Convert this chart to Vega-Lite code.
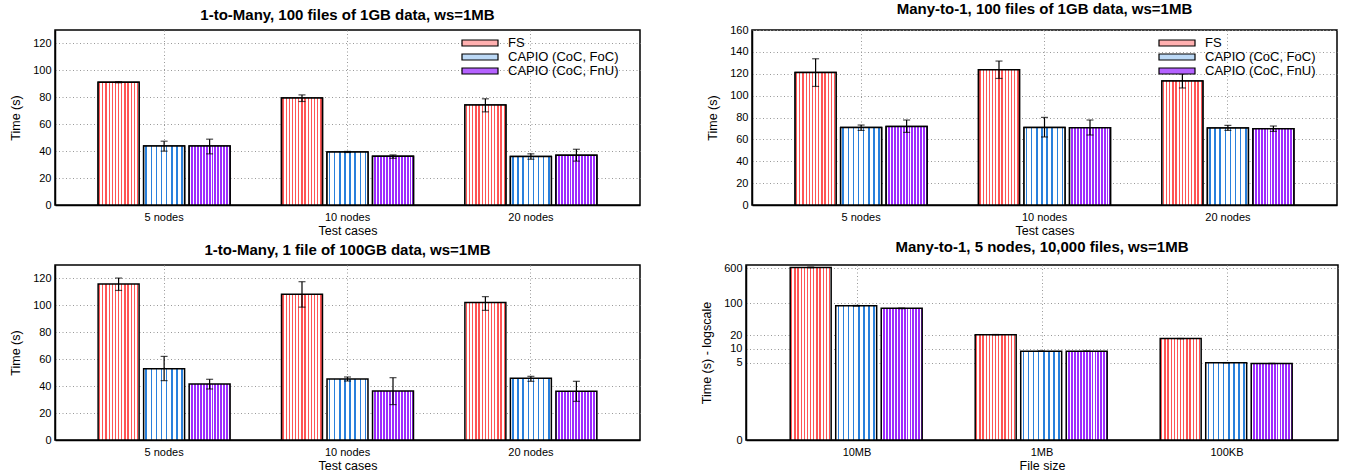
{
 "$schema": "https://vega.github.io/schema/vega-lite/v6.json",
 "padding": {"left": 8, "top": 1, "right": 5, "bottom": 0},
 "config": {
  "font": "Liberation Sans",
  "view": {"stroke": "black", "strokeWidth": 1.5},
  "title": {"fontSize": 15, "fontWeight": "bold", "color": "black", "offset": 7, "anchor": "middle"},
  "axis": {"labelFontSize": 11, "labelColor": "black", "titleFontSize": 12.5, "titleFontWeight": "normal", "titleColor": "black", "domainColor": "black", "domainWidth": 1.5, "ticks": false, "grid": true, "gridColor": "#999", "gridDash": [1, 2.5], "gridWidth": 1, "labelPadding": 4},
  "axisX": {"labelPadding": 6, "titlePadding": 2, "labelAngle": 0},
  "axisY": {"titlePadding": 10}
 },
 "spacing": 1,
 "vconcat": [
  {
   "spacing": 64,
   "resolve": {"scale": {"fill": "independent"}, "legend": {"fill": "independent"}},
   "hconcat": [
    {
     "title": "1-to-Many, 100 files of 1GB data, ws=1MB",
     "width": 585, "height": 175,
     "data": {"values": [
      {"case": "5 nodes", "series": "FS", "value": 91.2, "lo": 90.8, "hi": 91.6},
      {"case": "5 nodes", "series": "CAPIO (CoC, FoC)", "value": 43.9, "lo": 40.0, "hi": 47.4},
      {"case": "5 nodes", "series": "CAPIO (CoC, FnU)", "value": 43.9, "lo": 38.0, "hi": 48.9},
      {"case": "10 nodes", "series": "FS", "value": 79.4, "lo": 76.9, "hi": 81.8},
      {"case": "10 nodes", "series": "CAPIO (CoC, FoC)", "value": 39.4, "lo": 39.0, "hi": 39.8},
      {"case": "10 nodes", "series": "CAPIO (CoC, FnU)", "value": 36.2, "lo": 34.7, "hi": 37.2},
      {"case": "20 nodes", "series": "FS", "value": 74.2, "lo": 69.2, "hi": 78.9},
      {"case": "20 nodes", "series": "CAPIO (CoC, FoC)", "value": 36.0, "lo": 34.0, "hi": 38.0},
      {"case": "20 nodes", "series": "CAPIO (CoC, FnU)", "value": 37.0, "lo": 32.6, "hi": 41.4}
     ]},
     "encoding": {
      "x": {"field": "case", "type": "nominal", "sort": ["5 nodes", "10 nodes", "20 nodes"], "scale": {"paddingInner": 0, "paddingOuter": 0.095}, "axis": {"title": "Test cases", "bandPosition": 0.5, "grid": true}},
      "xOffset": {"field": "series", "type": "nominal", "scale": {"domain": ["FS", "CAPIO (CoC, FoC)", "CAPIO (CoC, FnU)"], "paddingInner": 0.1, "paddingOuter": 0.565}},
      "y": {"field": "value", "type": "quantitative", "scale": {"domain": [0, 130], "nice": false}, "axis": {"title": "Time (s)", "values": [0, 20, 40, 60, 80, 100, 120]}}
     },
     "layer": [
      {"mark": {"type": "bar", "stroke": "black", "strokeWidth": 1.5},
       "encoding": {"fill": {"field": "series", "type": "nominal", "scale": {"domain": ["FS", "CAPIO (CoC, FoC)", "CAPIO (CoC, FnU)"], "range": ["#ffb0b0", "#bcd9f6", "#b562ff"]},
        "legend": {"title": null, "orient": "none", "legendX": 418, "legendY": 6, "symbolType": "M-3,-0.5H3V0.5H-3Z", "symbolSize": 144, "symbolStrokeColor": "black", "symbolStrokeWidth": 1.2, "labelFontSize": 13, "labelColor": "black", "labelOffset": 21, "rowPadding": -1, "labelLimit": 300}}}},
      {"transform": [{"filter": "datum.series === 'FS'"}],
       "mark": {"type": "bar", "stroke": "black", "strokeWidth": 1.5, "fill": {"gradient": "linear", "x1": 0, "y1": 0, "x2": 1, "y2": 0, "stops": [{"offset":0,"color":"#fff"},{"offset":0.023,"color":"#fff"},{"offset":0.023,"color":"#f55"},{"offset":0.054,"color":"#f55"},{"offset":0.054,"color":"#fff"},{"offset":0.1,"color":"#fff"},{"offset":0.1,"color":"#f55"},{"offset":0.131,"color":"#f55"},{"offset":0.131,"color":"#fff"},{"offset":0.177,"color":"#fff"},{"offset":0.177,"color":"#f55"},{"offset":0.208,"color":"#f55"},{"offset":0.208,"color":"#fff"},{"offset":0.254,"color":"#fff"},{"offset":0.254,"color":"#f55"},{"offset":0.285,"color":"#f55"},{"offset":0.285,"color":"#fff"},{"offset":0.331,"color":"#fff"},{"offset":0.331,"color":"#f55"},{"offset":0.362,"color":"#f55"},{"offset":0.362,"color":"#fff"},{"offset":0.408,"color":"#fff"},{"offset":0.408,"color":"#f55"},{"offset":0.439,"color":"#f55"},{"offset":0.439,"color":"#fff"},{"offset":0.485,"color":"#fff"},{"offset":0.485,"color":"#f55"},{"offset":0.516,"color":"#f55"},{"offset":0.516,"color":"#fff"},{"offset":0.561,"color":"#fff"},{"offset":0.561,"color":"#f55"},{"offset":0.592,"color":"#f55"},{"offset":0.592,"color":"#fff"},{"offset":0.638,"color":"#fff"},{"offset":0.638,"color":"#f55"},{"offset":0.669,"color":"#f55"},{"offset":0.669,"color":"#fff"},{"offset":0.715,"color":"#fff"},{"offset":0.715,"color":"#f55"},{"offset":0.746,"color":"#f55"},{"offset":0.746,"color":"#fff"},{"offset":0.792,"color":"#fff"},{"offset":0.792,"color":"#f55"},{"offset":0.823,"color":"#f55"},{"offset":0.823,"color":"#fff"},{"offset":0.869,"color":"#fff"},{"offset":0.869,"color":"#f55"},{"offset":0.9,"color":"#f55"},{"offset":0.9,"color":"#fff"},{"offset":0.946,"color":"#fff"},{"offset":0.946,"color":"#f55"},{"offset":0.977,"color":"#f55"},{"offset":0.977,"color":"#fff"},{"offset":1,"color":"#fff"}]}},
       "encoding": {}},
      {"transform": [{"filter": "datum.series === 'CAPIO (CoC, FoC)'"}],
       "mark": {"type": "bar", "stroke": "black", "strokeWidth": 1.5, "fill": {"gradient": "linear", "x1": 0, "y1": 0, "x2": 1, "y2": 0, "stops": [{"offset":0,"color":"#fff"},{"offset":0.044,"color":"#fff"},{"offset":0.044,"color":"#2a80dc"},{"offset":0.081,"color":"#2a80dc"},{"offset":0.081,"color":"#fff"},{"offset":0.169,"color":"#fff"},{"offset":0.169,"color":"#2a80dc"},{"offset":0.206,"color":"#2a80dc"},{"offset":0.206,"color":"#fff"},{"offset":0.294,"color":"#fff"},{"offset":0.294,"color":"#2a80dc"},{"offset":0.331,"color":"#2a80dc"},{"offset":0.331,"color":"#fff"},{"offset":0.419,"color":"#fff"},{"offset":0.419,"color":"#2a80dc"},{"offset":0.456,"color":"#2a80dc"},{"offset":0.456,"color":"#fff"},{"offset":0.544,"color":"#fff"},{"offset":0.544,"color":"#2a80dc"},{"offset":0.581,"color":"#2a80dc"},{"offset":0.581,"color":"#fff"},{"offset":0.669,"color":"#fff"},{"offset":0.669,"color":"#2a80dc"},{"offset":0.706,"color":"#2a80dc"},{"offset":0.706,"color":"#fff"},{"offset":0.794,"color":"#fff"},{"offset":0.794,"color":"#2a80dc"},{"offset":0.831,"color":"#2a80dc"},{"offset":0.831,"color":"#fff"},{"offset":0.919,"color":"#fff"},{"offset":0.919,"color":"#2a80dc"},{"offset":0.956,"color":"#2a80dc"},{"offset":0.956,"color":"#fff"},{"offset":1,"color":"#fff"}]}},
       "encoding": {}},
      {"transform": [{"filter": "datum.series === 'CAPIO (CoC, FnU)'"}],
       "mark": {"type": "bar", "stroke": "black", "strokeWidth": 1.5, "fill": {"gradient": "linear", "x1": 0, "y1": 0, "x2": 1, "y2": 0, "stops": [{"offset":0,"color":"#9d2cff"},{"offset":0.023,"color":"#9d2cff"},{"offset":0.023,"color":"#fff"},{"offset":0.048,"color":"#fff"},{"offset":0.048,"color":"#9d2cff"},{"offset":0.094,"color":"#9d2cff"},{"offset":0.094,"color":"#fff"},{"offset":0.119,"color":"#fff"},{"offset":0.119,"color":"#9d2cff"},{"offset":0.166,"color":"#9d2cff"},{"offset":0.166,"color":"#fff"},{"offset":0.191,"color":"#fff"},{"offset":0.191,"color":"#9d2cff"},{"offset":0.237,"color":"#9d2cff"},{"offset":0.237,"color":"#fff"},{"offset":0.262,"color":"#fff"},{"offset":0.262,"color":"#9d2cff"},{"offset":0.309,"color":"#9d2cff"},{"offset":0.309,"color":"#fff"},{"offset":0.334,"color":"#fff"},{"offset":0.334,"color":"#9d2cff"},{"offset":0.38,"color":"#9d2cff"},{"offset":0.38,"color":"#fff"},{"offset":0.405,"color":"#fff"},{"offset":0.405,"color":"#9d2cff"},{"offset":0.451,"color":"#9d2cff"},{"offset":0.451,"color":"#fff"},{"offset":0.476,"color":"#fff"},{"offset":0.476,"color":"#9d2cff"},{"offset":0.523,"color":"#9d2cff"},{"offset":0.523,"color":"#fff"},{"offset":0.548,"color":"#fff"},{"offset":0.548,"color":"#9d2cff"},{"offset":0.594,"color":"#9d2cff"},{"offset":0.594,"color":"#fff"},{"offset":0.619,"color":"#fff"},{"offset":0.619,"color":"#9d2cff"},{"offset":0.666,"color":"#9d2cff"},{"offset":0.666,"color":"#fff"},{"offset":0.691,"color":"#fff"},{"offset":0.691,"color":"#9d2cff"},{"offset":0.737,"color":"#9d2cff"},{"offset":0.737,"color":"#fff"},{"offset":0.762,"color":"#fff"},{"offset":0.762,"color":"#9d2cff"},{"offset":0.809,"color":"#9d2cff"},{"offset":0.809,"color":"#fff"},{"offset":0.834,"color":"#fff"},{"offset":0.834,"color":"#9d2cff"},{"offset":0.88,"color":"#9d2cff"},{"offset":0.88,"color":"#fff"},{"offset":0.905,"color":"#fff"},{"offset":0.905,"color":"#9d2cff"},{"offset":0.951,"color":"#9d2cff"},{"offset":0.951,"color":"#fff"},{"offset":0.976,"color":"#fff"},{"offset":0.976,"color":"#9d2cff"},{"offset":1,"color":"#9d2cff"}]}},
       "encoding": {}},
      {"mark": {"type": "rule", "color": "black", "strokeWidth": 1.2}, "encoding": {"y": {"field": "lo", "type": "quantitative"}, "y2": {"field": "hi"}}},
      {"mark": {"type": "tick", "color": "black", "size": 7, "thickness": 1.2}, "encoding": {"y": {"field": "lo", "type": "quantitative"}}},
      {"mark": {"type": "tick", "color": "black", "size": 7, "thickness": 1.2}, "encoding": {"y": {"field": "hi", "type": "quantitative"}}}
     ]
    },
    {
     "title": "Many-to-1, 100 files of 1GB data, ws=1MB",
     "width": 585, "height": 175,
     "data": {"values": [
      {"case": "5 nodes", "series": "FS", "value": 121.2, "lo": 108.4, "hi": 133.7},
      {"case": "5 nodes", "series": "CAPIO (CoC, FoC)", "value": 70.9, "lo": 68.2, "hi": 73.1},
      {"case": "5 nodes", "series": "CAPIO (CoC, FnU)", "value": 71.8, "lo": 66.4, "hi": 77.7},
      {"case": "10 nodes", "series": "FS", "value": 123.7, "lo": 115.7, "hi": 131.6},
      {"case": "10 nodes", "series": "CAPIO (CoC, FoC)", "value": 70.9, "lo": 62.2, "hi": 80.1},
      {"case": "10 nodes", "series": "CAPIO (CoC, FnU)", "value": 70.7, "lo": 64.0, "hi": 77.7},
      {"case": "20 nodes", "series": "FS", "value": 113.3, "lo": 107.0, "hi": 120.0},
      {"case": "20 nodes", "series": "CAPIO (CoC, FoC)", "value": 70.4, "lo": 68.2, "hi": 72.8},
      {"case": "20 nodes", "series": "CAPIO (CoC, FnU)", "value": 69.7, "lo": 67.3, "hi": 72.2}
     ]},
     "encoding": {
      "x": {"field": "case", "type": "nominal", "sort": ["5 nodes", "10 nodes", "20 nodes"], "scale": {"paddingInner": 0, "paddingOuter": 0.095}, "axis": {"title": "Test cases", "bandPosition": 0.5, "grid": true}},
      "xOffset": {"field": "series", "type": "nominal", "scale": {"domain": ["FS", "CAPIO (CoC, FoC)", "CAPIO (CoC, FnU)"], "paddingInner": 0.1, "paddingOuter": 0.565}},
      "y": {"field": "value", "type": "quantitative", "scale": {"domain": [0, 160], "nice": false}, "axis": {"title": "Time (s)", "values": [0, 20, 40, 60, 80, 100, 120, 140, 160]}}
     },
     "layer": [
      {"mark": {"type": "bar", "stroke": "black", "strokeWidth": 1.5},
       "encoding": {"fill": {"field": "series", "type": "nominal", "scale": {"domain": ["FS", "CAPIO (CoC, FoC)", "CAPIO (CoC, FnU)"], "range": ["#ffb0b0", "#bcd9f6", "#b562ff"]},
        "legend": {"title": null, "orient": "none", "legendX": 418, "legendY": 6, "symbolType": "M-3,-0.5H3V0.5H-3Z", "symbolSize": 144, "symbolStrokeColor": "black", "symbolStrokeWidth": 1.2, "labelFontSize": 13, "labelColor": "black", "labelOffset": 21, "rowPadding": -1, "labelLimit": 300}}}},
      {"transform": [{"filter": "datum.series === 'FS'"}],
       "mark": {"type": "bar", "stroke": "black", "strokeWidth": 1.5, "fill": {"gradient": "linear", "x1": 0, "y1": 0, "x2": 1, "y2": 0, "stops": [{"offset":0,"color":"#fff"},{"offset":0.023,"color":"#fff"},{"offset":0.023,"color":"#f55"},{"offset":0.054,"color":"#f55"},{"offset":0.054,"color":"#fff"},{"offset":0.1,"color":"#fff"},{"offset":0.1,"color":"#f55"},{"offset":0.131,"color":"#f55"},{"offset":0.131,"color":"#fff"},{"offset":0.177,"color":"#fff"},{"offset":0.177,"color":"#f55"},{"offset":0.208,"color":"#f55"},{"offset":0.208,"color":"#fff"},{"offset":0.254,"color":"#fff"},{"offset":0.254,"color":"#f55"},{"offset":0.285,"color":"#f55"},{"offset":0.285,"color":"#fff"},{"offset":0.331,"color":"#fff"},{"offset":0.331,"color":"#f55"},{"offset":0.362,"color":"#f55"},{"offset":0.362,"color":"#fff"},{"offset":0.408,"color":"#fff"},{"offset":0.408,"color":"#f55"},{"offset":0.439,"color":"#f55"},{"offset":0.439,"color":"#fff"},{"offset":0.485,"color":"#fff"},{"offset":0.485,"color":"#f55"},{"offset":0.516,"color":"#f55"},{"offset":0.516,"color":"#fff"},{"offset":0.561,"color":"#fff"},{"offset":0.561,"color":"#f55"},{"offset":0.592,"color":"#f55"},{"offset":0.592,"color":"#fff"},{"offset":0.638,"color":"#fff"},{"offset":0.638,"color":"#f55"},{"offset":0.669,"color":"#f55"},{"offset":0.669,"color":"#fff"},{"offset":0.715,"color":"#fff"},{"offset":0.715,"color":"#f55"},{"offset":0.746,"color":"#f55"},{"offset":0.746,"color":"#fff"},{"offset":0.792,"color":"#fff"},{"offset":0.792,"color":"#f55"},{"offset":0.823,"color":"#f55"},{"offset":0.823,"color":"#fff"},{"offset":0.869,"color":"#fff"},{"offset":0.869,"color":"#f55"},{"offset":0.9,"color":"#f55"},{"offset":0.9,"color":"#fff"},{"offset":0.946,"color":"#fff"},{"offset":0.946,"color":"#f55"},{"offset":0.977,"color":"#f55"},{"offset":0.977,"color":"#fff"},{"offset":1,"color":"#fff"}]}},
       "encoding": {}},
      {"transform": [{"filter": "datum.series === 'CAPIO (CoC, FoC)'"}],
       "mark": {"type": "bar", "stroke": "black", "strokeWidth": 1.5, "fill": {"gradient": "linear", "x1": 0, "y1": 0, "x2": 1, "y2": 0, "stops": [{"offset":0,"color":"#fff"},{"offset":0.044,"color":"#fff"},{"offset":0.044,"color":"#2a80dc"},{"offset":0.081,"color":"#2a80dc"},{"offset":0.081,"color":"#fff"},{"offset":0.169,"color":"#fff"},{"offset":0.169,"color":"#2a80dc"},{"offset":0.206,"color":"#2a80dc"},{"offset":0.206,"color":"#fff"},{"offset":0.294,"color":"#fff"},{"offset":0.294,"color":"#2a80dc"},{"offset":0.331,"color":"#2a80dc"},{"offset":0.331,"color":"#fff"},{"offset":0.419,"color":"#fff"},{"offset":0.419,"color":"#2a80dc"},{"offset":0.456,"color":"#2a80dc"},{"offset":0.456,"color":"#fff"},{"offset":0.544,"color":"#fff"},{"offset":0.544,"color":"#2a80dc"},{"offset":0.581,"color":"#2a80dc"},{"offset":0.581,"color":"#fff"},{"offset":0.669,"color":"#fff"},{"offset":0.669,"color":"#2a80dc"},{"offset":0.706,"color":"#2a80dc"},{"offset":0.706,"color":"#fff"},{"offset":0.794,"color":"#fff"},{"offset":0.794,"color":"#2a80dc"},{"offset":0.831,"color":"#2a80dc"},{"offset":0.831,"color":"#fff"},{"offset":0.919,"color":"#fff"},{"offset":0.919,"color":"#2a80dc"},{"offset":0.956,"color":"#2a80dc"},{"offset":0.956,"color":"#fff"},{"offset":1,"color":"#fff"}]}},
       "encoding": {}},
      {"transform": [{"filter": "datum.series === 'CAPIO (CoC, FnU)'"}],
       "mark": {"type": "bar", "stroke": "black", "strokeWidth": 1.5, "fill": {"gradient": "linear", "x1": 0, "y1": 0, "x2": 1, "y2": 0, "stops": [{"offset":0,"color":"#9d2cff"},{"offset":0.023,"color":"#9d2cff"},{"offset":0.023,"color":"#fff"},{"offset":0.048,"color":"#fff"},{"offset":0.048,"color":"#9d2cff"},{"offset":0.094,"color":"#9d2cff"},{"offset":0.094,"color":"#fff"},{"offset":0.119,"color":"#fff"},{"offset":0.119,"color":"#9d2cff"},{"offset":0.166,"color":"#9d2cff"},{"offset":0.166,"color":"#fff"},{"offset":0.191,"color":"#fff"},{"offset":0.191,"color":"#9d2cff"},{"offset":0.237,"color":"#9d2cff"},{"offset":0.237,"color":"#fff"},{"offset":0.262,"color":"#fff"},{"offset":0.262,"color":"#9d2cff"},{"offset":0.309,"color":"#9d2cff"},{"offset":0.309,"color":"#fff"},{"offset":0.334,"color":"#fff"},{"offset":0.334,"color":"#9d2cff"},{"offset":0.38,"color":"#9d2cff"},{"offset":0.38,"color":"#fff"},{"offset":0.405,"color":"#fff"},{"offset":0.405,"color":"#9d2cff"},{"offset":0.451,"color":"#9d2cff"},{"offset":0.451,"color":"#fff"},{"offset":0.476,"color":"#fff"},{"offset":0.476,"color":"#9d2cff"},{"offset":0.523,"color":"#9d2cff"},{"offset":0.523,"color":"#fff"},{"offset":0.548,"color":"#fff"},{"offset":0.548,"color":"#9d2cff"},{"offset":0.594,"color":"#9d2cff"},{"offset":0.594,"color":"#fff"},{"offset":0.619,"color":"#fff"},{"offset":0.619,"color":"#9d2cff"},{"offset":0.666,"color":"#9d2cff"},{"offset":0.666,"color":"#fff"},{"offset":0.691,"color":"#fff"},{"offset":0.691,"color":"#9d2cff"},{"offset":0.737,"color":"#9d2cff"},{"offset":0.737,"color":"#fff"},{"offset":0.762,"color":"#fff"},{"offset":0.762,"color":"#9d2cff"},{"offset":0.809,"color":"#9d2cff"},{"offset":0.809,"color":"#fff"},{"offset":0.834,"color":"#fff"},{"offset":0.834,"color":"#9d2cff"},{"offset":0.88,"color":"#9d2cff"},{"offset":0.88,"color":"#fff"},{"offset":0.905,"color":"#fff"},{"offset":0.905,"color":"#9d2cff"},{"offset":0.951,"color":"#9d2cff"},{"offset":0.951,"color":"#fff"},{"offset":0.976,"color":"#fff"},{"offset":0.976,"color":"#9d2cff"},{"offset":1,"color":"#9d2cff"}]}},
       "encoding": {}},
      {"mark": {"type": "rule", "color": "black", "strokeWidth": 1.2}, "encoding": {"y": {"field": "lo", "type": "quantitative"}, "y2": {"field": "hi"}}},
      {"mark": {"type": "tick", "color": "black", "size": 7, "thickness": 1.2}, "encoding": {"y": {"field": "lo", "type": "quantitative"}}},
      {"mark": {"type": "tick", "color": "black", "size": 7, "thickness": 1.2}, "encoding": {"y": {"field": "hi", "type": "quantitative"}}}
     ]
    }
   ]
  },
  {
   "spacing": 58,
   "hconcat": [
    {
     "title": "1-to-Many, 1 file of 100GB data, ws=1MB",
     "width": 585, "height": 175,
     "data": {"values": [
      {"case": "5 nodes", "series": "FS", "value": 115.8, "lo": 111.1, "hi": 120.3},
      {"case": "5 nodes", "series": "CAPIO (CoC, FoC)", "value": 53.0, "lo": 44.1, "hi": 62.1},
      {"case": "5 nodes", "series": "CAPIO (CoC, FnU)", "value": 41.6, "lo": 37.9, "hi": 45.1},
      {"case": "10 nodes", "series": "FS", "value": 108.2, "lo": 98.7, "hi": 117.6},
      {"case": "10 nodes", "series": "CAPIO (CoC, FoC)", "value": 45.3, "lo": 43.8, "hi": 46.8},
      {"case": "10 nodes", "series": "CAPIO (CoC, FnU)", "value": 36.4, "lo": 26.3, "hi": 46.3},
      {"case": "20 nodes", "series": "FS", "value": 102.2, "lo": 96.3, "hi": 106.5},
      {"case": "20 nodes", "series": "CAPIO (CoC, FoC)", "value": 45.8, "lo": 43.6, "hi": 47.3},
      {"case": "20 nodes", "series": "CAPIO (CoC, FnU)", "value": 36.2, "lo": 28.7, "hi": 43.6}
     ]},
     "encoding": {
      "x": {"field": "case", "type": "nominal", "sort": ["5 nodes", "10 nodes", "20 nodes"], "scale": {"paddingInner": 0, "paddingOuter": 0.095}, "axis": {"title": "Test cases", "bandPosition": 0.5, "grid": true}},
      "xOffset": {"field": "series", "type": "nominal", "scale": {"domain": ["FS", "CAPIO (CoC, FoC)", "CAPIO (CoC, FnU)"], "paddingInner": 0.1, "paddingOuter": 0.565}},
      "y": {"field": "value", "type": "quantitative", "scale": {"domain": [0, 130], "nice": false}, "axis": {"title": "Time (s)", "values": [0, 20, 40, 60, 80, 100, 120]}}
     },
     "layer": [
      {"transform": [{"filter": "datum.series === 'FS'"}],
       "mark": {"type": "bar", "stroke": "black", "strokeWidth": 1.5, "fill": {"gradient": "linear", "x1": 0, "y1": 0, "x2": 1, "y2": 0, "stops": [{"offset":0,"color":"#fff"},{"offset":0.023,"color":"#fff"},{"offset":0.023,"color":"#f55"},{"offset":0.054,"color":"#f55"},{"offset":0.054,"color":"#fff"},{"offset":0.1,"color":"#fff"},{"offset":0.1,"color":"#f55"},{"offset":0.131,"color":"#f55"},{"offset":0.131,"color":"#fff"},{"offset":0.177,"color":"#fff"},{"offset":0.177,"color":"#f55"},{"offset":0.208,"color":"#f55"},{"offset":0.208,"color":"#fff"},{"offset":0.254,"color":"#fff"},{"offset":0.254,"color":"#f55"},{"offset":0.285,"color":"#f55"},{"offset":0.285,"color":"#fff"},{"offset":0.331,"color":"#fff"},{"offset":0.331,"color":"#f55"},{"offset":0.362,"color":"#f55"},{"offset":0.362,"color":"#fff"},{"offset":0.408,"color":"#fff"},{"offset":0.408,"color":"#f55"},{"offset":0.439,"color":"#f55"},{"offset":0.439,"color":"#fff"},{"offset":0.485,"color":"#fff"},{"offset":0.485,"color":"#f55"},{"offset":0.516,"color":"#f55"},{"offset":0.516,"color":"#fff"},{"offset":0.561,"color":"#fff"},{"offset":0.561,"color":"#f55"},{"offset":0.592,"color":"#f55"},{"offset":0.592,"color":"#fff"},{"offset":0.638,"color":"#fff"},{"offset":0.638,"color":"#f55"},{"offset":0.669,"color":"#f55"},{"offset":0.669,"color":"#fff"},{"offset":0.715,"color":"#fff"},{"offset":0.715,"color":"#f55"},{"offset":0.746,"color":"#f55"},{"offset":0.746,"color":"#fff"},{"offset":0.792,"color":"#fff"},{"offset":0.792,"color":"#f55"},{"offset":0.823,"color":"#f55"},{"offset":0.823,"color":"#fff"},{"offset":0.869,"color":"#fff"},{"offset":0.869,"color":"#f55"},{"offset":0.9,"color":"#f55"},{"offset":0.9,"color":"#fff"},{"offset":0.946,"color":"#fff"},{"offset":0.946,"color":"#f55"},{"offset":0.977,"color":"#f55"},{"offset":0.977,"color":"#fff"},{"offset":1,"color":"#fff"}]}},
       "encoding": {}},
      {"transform": [{"filter": "datum.series === 'CAPIO (CoC, FoC)'"}],
       "mark": {"type": "bar", "stroke": "black", "strokeWidth": 1.5, "fill": {"gradient": "linear", "x1": 0, "y1": 0, "x2": 1, "y2": 0, "stops": [{"offset":0,"color":"#fff"},{"offset":0.044,"color":"#fff"},{"offset":0.044,"color":"#2a80dc"},{"offset":0.081,"color":"#2a80dc"},{"offset":0.081,"color":"#fff"},{"offset":0.169,"color":"#fff"},{"offset":0.169,"color":"#2a80dc"},{"offset":0.206,"color":"#2a80dc"},{"offset":0.206,"color":"#fff"},{"offset":0.294,"color":"#fff"},{"offset":0.294,"color":"#2a80dc"},{"offset":0.331,"color":"#2a80dc"},{"offset":0.331,"color":"#fff"},{"offset":0.419,"color":"#fff"},{"offset":0.419,"color":"#2a80dc"},{"offset":0.456,"color":"#2a80dc"},{"offset":0.456,"color":"#fff"},{"offset":0.544,"color":"#fff"},{"offset":0.544,"color":"#2a80dc"},{"offset":0.581,"color":"#2a80dc"},{"offset":0.581,"color":"#fff"},{"offset":0.669,"color":"#fff"},{"offset":0.669,"color":"#2a80dc"},{"offset":0.706,"color":"#2a80dc"},{"offset":0.706,"color":"#fff"},{"offset":0.794,"color":"#fff"},{"offset":0.794,"color":"#2a80dc"},{"offset":0.831,"color":"#2a80dc"},{"offset":0.831,"color":"#fff"},{"offset":0.919,"color":"#fff"},{"offset":0.919,"color":"#2a80dc"},{"offset":0.956,"color":"#2a80dc"},{"offset":0.956,"color":"#fff"},{"offset":1,"color":"#fff"}]}},
       "encoding": {}},
      {"transform": [{"filter": "datum.series === 'CAPIO (CoC, FnU)'"}],
       "mark": {"type": "bar", "stroke": "black", "strokeWidth": 1.5, "fill": {"gradient": "linear", "x1": 0, "y1": 0, "x2": 1, "y2": 0, "stops": [{"offset":0,"color":"#9d2cff"},{"offset":0.023,"color":"#9d2cff"},{"offset":0.023,"color":"#fff"},{"offset":0.048,"color":"#fff"},{"offset":0.048,"color":"#9d2cff"},{"offset":0.094,"color":"#9d2cff"},{"offset":0.094,"color":"#fff"},{"offset":0.119,"color":"#fff"},{"offset":0.119,"color":"#9d2cff"},{"offset":0.166,"color":"#9d2cff"},{"offset":0.166,"color":"#fff"},{"offset":0.191,"color":"#fff"},{"offset":0.191,"color":"#9d2cff"},{"offset":0.237,"color":"#9d2cff"},{"offset":0.237,"color":"#fff"},{"offset":0.262,"color":"#fff"},{"offset":0.262,"color":"#9d2cff"},{"offset":0.309,"color":"#9d2cff"},{"offset":0.309,"color":"#fff"},{"offset":0.334,"color":"#fff"},{"offset":0.334,"color":"#9d2cff"},{"offset":0.38,"color":"#9d2cff"},{"offset":0.38,"color":"#fff"},{"offset":0.405,"color":"#fff"},{"offset":0.405,"color":"#9d2cff"},{"offset":0.451,"color":"#9d2cff"},{"offset":0.451,"color":"#fff"},{"offset":0.476,"color":"#fff"},{"offset":0.476,"color":"#9d2cff"},{"offset":0.523,"color":"#9d2cff"},{"offset":0.523,"color":"#fff"},{"offset":0.548,"color":"#fff"},{"offset":0.548,"color":"#9d2cff"},{"offset":0.594,"color":"#9d2cff"},{"offset":0.594,"color":"#fff"},{"offset":0.619,"color":"#fff"},{"offset":0.619,"color":"#9d2cff"},{"offset":0.666,"color":"#9d2cff"},{"offset":0.666,"color":"#fff"},{"offset":0.691,"color":"#fff"},{"offset":0.691,"color":"#9d2cff"},{"offset":0.737,"color":"#9d2cff"},{"offset":0.737,"color":"#fff"},{"offset":0.762,"color":"#fff"},{"offset":0.762,"color":"#9d2cff"},{"offset":0.809,"color":"#9d2cff"},{"offset":0.809,"color":"#fff"},{"offset":0.834,"color":"#fff"},{"offset":0.834,"color":"#9d2cff"},{"offset":0.88,"color":"#9d2cff"},{"offset":0.88,"color":"#fff"},{"offset":0.905,"color":"#fff"},{"offset":0.905,"color":"#9d2cff"},{"offset":0.951,"color":"#9d2cff"},{"offset":0.951,"color":"#fff"},{"offset":0.976,"color":"#fff"},{"offset":0.976,"color":"#9d2cff"},{"offset":1,"color":"#9d2cff"}]}},
       "encoding": {}},
      {"mark": {"type": "rule", "color": "black", "strokeWidth": 1.2}, "encoding": {"y": {"field": "lo", "type": "quantitative"}, "y2": {"field": "hi"}}},
      {"mark": {"type": "tick", "color": "black", "size": 7, "thickness": 1.2}, "encoding": {"y": {"field": "lo", "type": "quantitative"}}},
      {"mark": {"type": "tick", "color": "black", "size": 7, "thickness": 1.2}, "encoding": {"y": {"field": "hi", "type": "quantitative"}}}
     ]
    },
    {
     "title": "Many-to-1, 5 nodes, 10,000 files, ws=1MB",
     "width": 592, "height": 175,
     "data": {"values": [
      {"case": "10MB", "series": "FS", "value": 620, "lo": 608, "hi": 632},
      {"case": "10MB", "series": "CAPIO (CoC, FoC)", "value": 89, "lo": 87.5, "hi": 90.5},
      {"case": "10MB", "series": "CAPIO (CoC, FnU)", "value": 78, "lo": 76.8, "hi": 79.2},
      {"case": "1MB", "series": "FS", "value": 20.6, "lo": 20.4, "hi": 20.8},
      {"case": "1MB", "series": "CAPIO (CoC, FoC)", "value": 8.9, "lo": 8.85, "hi": 8.95},
      {"case": "1MB", "series": "CAPIO (CoC, FnU)", "value": 8.9, "lo": 8.85, "hi": 8.95},
      {"case": "100KB", "series": "FS", "value": 16.9, "lo": 16.8, "hi": 17.0},
      {"case": "100KB", "series": "CAPIO (CoC, FoC)", "value": 5.0, "lo": 4.97, "hi": 5.03},
      {"case": "100KB", "series": "CAPIO (CoC, FnU)", "value": 4.8, "lo": 4.77, "hi": 4.83}
     ]},
     "encoding": {
      "x": {"field": "case", "type": "nominal", "sort": ["10MB", "1MB", "100KB"], "scale": {"paddingInner": 0, "paddingOuter": 0.1}, "axis": {"title": "File size", "bandPosition": 0.5, "grid": true}},
      "xOffset": {"field": "series", "type": "nominal", "scale": {"domain": ["FS", "CAPIO (CoC, FoC)", "CAPIO (CoC, FnU)"], "paddingInner": 0.1, "paddingOuter": 0.565}},
      "y": {"field": "value", "type": "quantitative", "scale": {"type": "log", "domain": [0.1, 700], "nice": false}, "axis": {"title": "Time (s) - logscale", "values": [0.1, 5, 10, 20, 100, 600], "format": "d", "labelExpr": "datum.value < 1 ? '0' : datum.label"}}
     },
     "layer": [
      {"transform": [{"filter": "datum.series === 'FS'"}],
       "mark": {"type": "bar", "stroke": "black", "strokeWidth": 1.5, "fill": {"gradient": "linear", "x1": 0, "y1": 0, "x2": 1, "y2": 0, "stops": [{"offset":0,"color":"#fff"},{"offset":0.023,"color":"#fff"},{"offset":0.023,"color":"#f55"},{"offset":0.054,"color":"#f55"},{"offset":0.054,"color":"#fff"},{"offset":0.1,"color":"#fff"},{"offset":0.1,"color":"#f55"},{"offset":0.131,"color":"#f55"},{"offset":0.131,"color":"#fff"},{"offset":0.177,"color":"#fff"},{"offset":0.177,"color":"#f55"},{"offset":0.208,"color":"#f55"},{"offset":0.208,"color":"#fff"},{"offset":0.254,"color":"#fff"},{"offset":0.254,"color":"#f55"},{"offset":0.285,"color":"#f55"},{"offset":0.285,"color":"#fff"},{"offset":0.331,"color":"#fff"},{"offset":0.331,"color":"#f55"},{"offset":0.362,"color":"#f55"},{"offset":0.362,"color":"#fff"},{"offset":0.408,"color":"#fff"},{"offset":0.408,"color":"#f55"},{"offset":0.439,"color":"#f55"},{"offset":0.439,"color":"#fff"},{"offset":0.485,"color":"#fff"},{"offset":0.485,"color":"#f55"},{"offset":0.516,"color":"#f55"},{"offset":0.516,"color":"#fff"},{"offset":0.561,"color":"#fff"},{"offset":0.561,"color":"#f55"},{"offset":0.592,"color":"#f55"},{"offset":0.592,"color":"#fff"},{"offset":0.638,"color":"#fff"},{"offset":0.638,"color":"#f55"},{"offset":0.669,"color":"#f55"},{"offset":0.669,"color":"#fff"},{"offset":0.715,"color":"#fff"},{"offset":0.715,"color":"#f55"},{"offset":0.746,"color":"#f55"},{"offset":0.746,"color":"#fff"},{"offset":0.792,"color":"#fff"},{"offset":0.792,"color":"#f55"},{"offset":0.823,"color":"#f55"},{"offset":0.823,"color":"#fff"},{"offset":0.869,"color":"#fff"},{"offset":0.869,"color":"#f55"},{"offset":0.9,"color":"#f55"},{"offset":0.9,"color":"#fff"},{"offset":0.946,"color":"#fff"},{"offset":0.946,"color":"#f55"},{"offset":0.977,"color":"#f55"},{"offset":0.977,"color":"#fff"},{"offset":1,"color":"#fff"}]}},
       "encoding": {"y2": {"datum": 0.1}}},
      {"transform": [{"filter": "datum.series === 'CAPIO (CoC, FoC)'"}],
       "mark": {"type": "bar", "stroke": "black", "strokeWidth": 1.5, "fill": {"gradient": "linear", "x1": 0, "y1": 0, "x2": 1, "y2": 0, "stops": [{"offset":0,"color":"#fff"},{"offset":0.044,"color":"#fff"},{"offset":0.044,"color":"#2a80dc"},{"offset":0.081,"color":"#2a80dc"},{"offset":0.081,"color":"#fff"},{"offset":0.169,"color":"#fff"},{"offset":0.169,"color":"#2a80dc"},{"offset":0.206,"color":"#2a80dc"},{"offset":0.206,"color":"#fff"},{"offset":0.294,"color":"#fff"},{"offset":0.294,"color":"#2a80dc"},{"offset":0.331,"color":"#2a80dc"},{"offset":0.331,"color":"#fff"},{"offset":0.419,"color":"#fff"},{"offset":0.419,"color":"#2a80dc"},{"offset":0.456,"color":"#2a80dc"},{"offset":0.456,"color":"#fff"},{"offset":0.544,"color":"#fff"},{"offset":0.544,"color":"#2a80dc"},{"offset":0.581,"color":"#2a80dc"},{"offset":0.581,"color":"#fff"},{"offset":0.669,"color":"#fff"},{"offset":0.669,"color":"#2a80dc"},{"offset":0.706,"color":"#2a80dc"},{"offset":0.706,"color":"#fff"},{"offset":0.794,"color":"#fff"},{"offset":0.794,"color":"#2a80dc"},{"offset":0.831,"color":"#2a80dc"},{"offset":0.831,"color":"#fff"},{"offset":0.919,"color":"#fff"},{"offset":0.919,"color":"#2a80dc"},{"offset":0.956,"color":"#2a80dc"},{"offset":0.956,"color":"#fff"},{"offset":1,"color":"#fff"}]}},
       "encoding": {"y2": {"datum": 0.1}}},
      {"transform": [{"filter": "datum.series === 'CAPIO (CoC, FnU)'"}],
       "mark": {"type": "bar", "stroke": "black", "strokeWidth": 1.5, "fill": {"gradient": "linear", "x1": 0, "y1": 0, "x2": 1, "y2": 0, "stops": [{"offset":0,"color":"#9d2cff"},{"offset":0.023,"color":"#9d2cff"},{"offset":0.023,"color":"#fff"},{"offset":0.048,"color":"#fff"},{"offset":0.048,"color":"#9d2cff"},{"offset":0.094,"color":"#9d2cff"},{"offset":0.094,"color":"#fff"},{"offset":0.119,"color":"#fff"},{"offset":0.119,"color":"#9d2cff"},{"offset":0.166,"color":"#9d2cff"},{"offset":0.166,"color":"#fff"},{"offset":0.191,"color":"#fff"},{"offset":0.191,"color":"#9d2cff"},{"offset":0.237,"color":"#9d2cff"},{"offset":0.237,"color":"#fff"},{"offset":0.262,"color":"#fff"},{"offset":0.262,"color":"#9d2cff"},{"offset":0.309,"color":"#9d2cff"},{"offset":0.309,"color":"#fff"},{"offset":0.334,"color":"#fff"},{"offset":0.334,"color":"#9d2cff"},{"offset":0.38,"color":"#9d2cff"},{"offset":0.38,"color":"#fff"},{"offset":0.405,"color":"#fff"},{"offset":0.405,"color":"#9d2cff"},{"offset":0.451,"color":"#9d2cff"},{"offset":0.451,"color":"#fff"},{"offset":0.476,"color":"#fff"},{"offset":0.476,"color":"#9d2cff"},{"offset":0.523,"color":"#9d2cff"},{"offset":0.523,"color":"#fff"},{"offset":0.548,"color":"#fff"},{"offset":0.548,"color":"#9d2cff"},{"offset":0.594,"color":"#9d2cff"},{"offset":0.594,"color":"#fff"},{"offset":0.619,"color":"#fff"},{"offset":0.619,"color":"#9d2cff"},{"offset":0.666,"color":"#9d2cff"},{"offset":0.666,"color":"#fff"},{"offset":0.691,"color":"#fff"},{"offset":0.691,"color":"#9d2cff"},{"offset":0.737,"color":"#9d2cff"},{"offset":0.737,"color":"#fff"},{"offset":0.762,"color":"#fff"},{"offset":0.762,"color":"#9d2cff"},{"offset":0.809,"color":"#9d2cff"},{"offset":0.809,"color":"#fff"},{"offset":0.834,"color":"#fff"},{"offset":0.834,"color":"#9d2cff"},{"offset":0.88,"color":"#9d2cff"},{"offset":0.88,"color":"#fff"},{"offset":0.905,"color":"#fff"},{"offset":0.905,"color":"#9d2cff"},{"offset":0.951,"color":"#9d2cff"},{"offset":0.951,"color":"#fff"},{"offset":0.976,"color":"#fff"},{"offset":0.976,"color":"#9d2cff"},{"offset":1,"color":"#9d2cff"}]}},
       "encoding": {"y2": {"datum": 0.1}}},
      {"mark": {"type": "rule", "color": "black", "strokeWidth": 1.2}, "encoding": {"y": {"field": "lo", "type": "quantitative"}, "y2": {"field": "hi"}}},
      {"mark": {"type": "tick", "color": "black", "size": 7, "thickness": 1.2}, "encoding": {"y": {"field": "lo", "type": "quantitative"}}},
      {"mark": {"type": "tick", "color": "black", "size": 7, "thickness": 1.2}, "encoding": {"y": {"field": "hi", "type": "quantitative"}}}
     ]
    }
   ]
  }
 ]
}
